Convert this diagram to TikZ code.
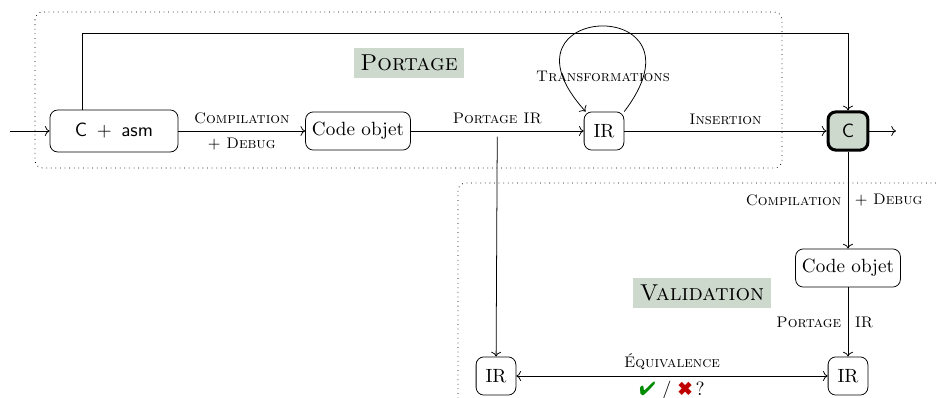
\documentclass[tikz,border=0pt]{standalone}
\usepackage{pifont}
\usetikzlibrary{positioning, arrows.meta}

\definecolor{sage}{RGB}{205,217,205}

\begin{document}
\begin{tikzpicture}[
            x=0.01835cm, y=0.01835cm,
            block/.style = {rectangle, draw, rounded corners=4pt, minimum width=0.73cm, minimum height=0.7cm, font=\normalsize},
            wideblock/.style = {block, minimum width=1.84cm},
            title/.style = {fill=sage, inner sep=3.5pt, font=\large\scshape},
            lbl/.style = {font=\footnotesize\scshape},
            zone/.style = {dotted, rounded corners=4pt},
        ]
            \useasboundingbox (0,0) rectangle (936,398);

            % Zones
            \draw[zone] (35,386) rectangle (782,230);
            \draw[zone] (936,215) -- (458,215) -- (458,-5);

            % Titles
            \node[title] (portage) at (409,335) {Portage};
            \node[title] (validation) at (702,105) {Validation};

            % Nodes of the porting chain
            \node[block, minimum width=2.35cm, minimum height=0.77cm] (casm) at (114,267) {\textsf{C}\, $+$\, \textsf{asm}};
            \node[wideblock] (code1) at (358,267) {Code objet};
            \node[block] (ir1) at (604,267) {IR};
            \node[block, line width=1.6pt, fill=sage] (cout) at (848,267) {\textsf{C}};

            % Nodes of the validation chain
            \node[wideblock] (code2) at (848,130) {Code objet};
            \node[block] (ir2) at (496,22) {IR};
            \node[block] (ir3) at (848,22) {IR};

            % Free ends
            \coordinate (in) at (10,267);
            \coordinate (out) at (896,267);
            \coordinate (up) at (82,365);

            % Porting
            \draw[->] (in) -- (casm);
            \draw[->] (casm) -- node[lbl, above] {Compilation} node[lbl, below] {$+$ Debug} (code1);
            \draw[->] (code1) -- coordinate[pos=0.5] (branch) node[lbl, above] {Portage IR} (ir1);
            \draw[->] (ir1.north east) .. controls +(90,118) and +(-100,110) .. ([xshift=1pt]ir1.north west);
            \node[lbl] (transfo) at (603,322) {Transformations};
            \draw[->] (ir1) -- node[lbl, above] {Insertion} (cout);
            \draw[->] (cout) -- (out);
            \draw[->] (casm.north -| up) -- (up) -| (cout.north);

            % Validation
            \draw[->] (cout) -- node[lbl, left] {Compilation} node[lbl, right] {$+$ Debug} (code2);
            \draw[->] (code2) -- node[lbl, left] {Portage} node[lbl, right] {IR} (ir3);
            \draw[->] ([yshift=-3pt]branch) -- (ir2);
            \draw[<->] (ir2) -- node[lbl, above] {\'Equivalence}
                node[below=-1pt] {\textcolor{green!55!black}{\ding{52}} / \textcolor{red!75!black}{\ding{54}}\,?} (ir3);

        \end{tikzpicture}
\end{document}
